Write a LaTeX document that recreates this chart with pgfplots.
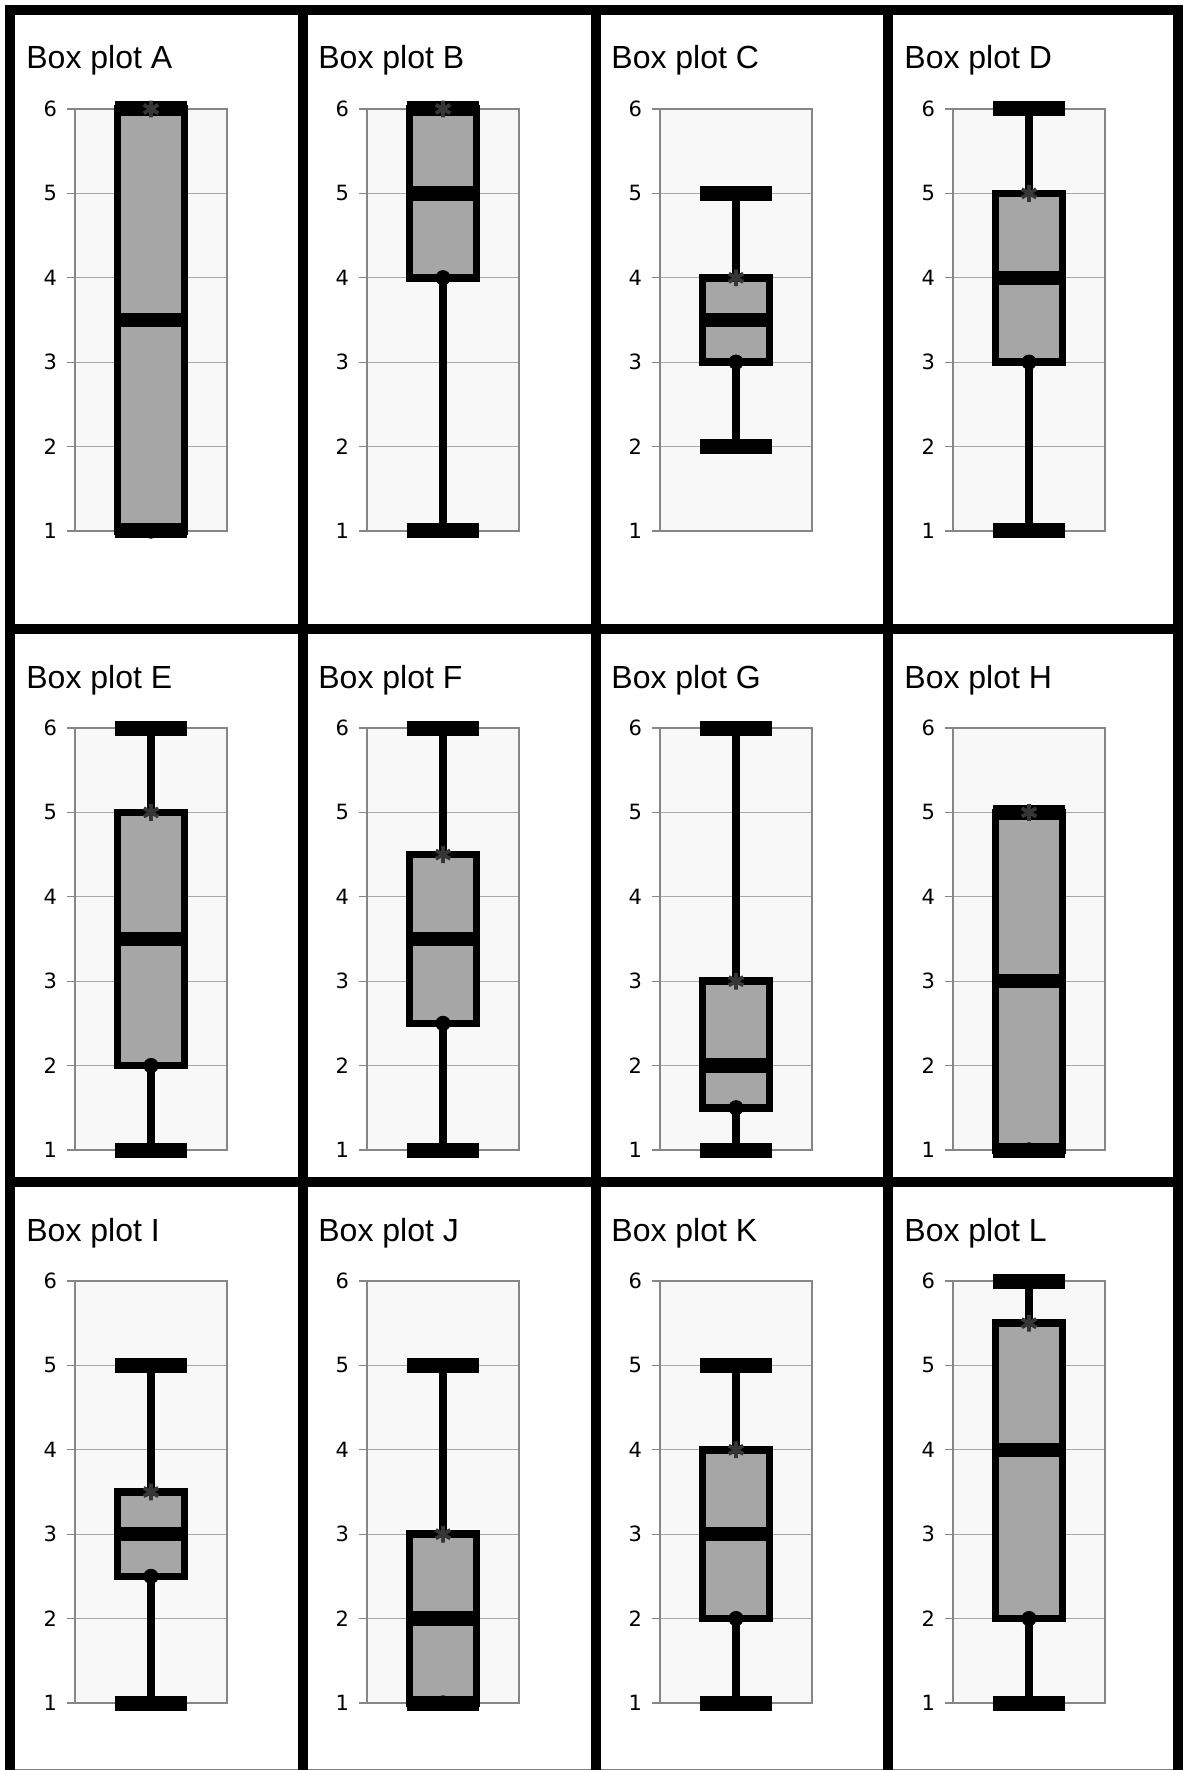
\documentclass[border=0pt]{standalone}
\usepackage{pgfplots}
\pgfplotsset{compat=1.18}
\usepackage{fontspec}
\setmainfont{Liberation Sans}
\newfontfamily\tickfont{DejaVu Sans}
\definecolor{boxgray}{HTML}{A6A6A6}
\definecolor{bggray}{HTML}{F8F8F8}
\definecolor{axgray}{HTML}{868686}
\definecolor{gridgray}{HTML}{A8A8A8}
\definecolor{stargray}{HTML}{363636}
\pgfplotsset{
  bpstyle/.style={
    scale only axis, width=76pt, height=211pt, anchor=north west,
    xmin=-1, xmax=1, ymin=1, ymax=6,
    xtick=\empty, ytick={1,2,3,4,5,6}, ytick pos=left,
    axis background/.style={fill=bggray},
    axis line style={draw=axgray, line width=0.8pt},
    ymajorgrids, grid style={draw=gridgray, line width=0.5pt},
    tick align=outside, major tick length=4pt,
    major tick style={draw=axgray, line width=0.6pt},
    /pgf/number format/assume math mode=true,
    yticklabel style={font=\tickfont\fontsize{10.5pt}{12pt}\selectfont, text=black, xshift=-1.5pt},
    clip=false,
  },
  whisk/.style={black, line width=4pt, mark=none},
  boxst/.style={draw=black, fill=boxgray, line width=3.75pt, line join=miter, mark=none},
  medst/.style={black, line width=7.25pt, mark=none, line cap=butt},
  capst/.style={black, line width=7.5pt, mark=none, line cap=butt},
  q1st/.style={only marks, mark=*, mark size=3.6pt, black, mark options={fill=black, draw=black}},
  q3st/.style={only marks, mark=asterisk, mark size=4.2pt, stargray, mark options={line width=1.9pt}},
}
% #1 plot left px, #2 plot top px, #3 letter, #4 min, #5 Q1, #6 median, #7 Q3, #8 max
\newcommand{\bp}[8]{%
  \begin{axis}[bpstyle, at={(#1*0.5pt,-#2*0.5pt)}]
    \addplot[whisk] coordinates {(0,#4) (0,#5)};
    \addplot[whisk] coordinates {(0,#7) (0,#8)};
    \addplot[boxst] coordinates {(-0.44,#5) (0.44,#5) (0.44,#7) (-0.44,#7)} -- cycle;
    \addplot[medst] coordinates {(-0.487,#6) (0.487,#6)};
    \addplot[capst] coordinates {(-0.474,#4) (0.474,#4)};
    \addplot[capst] coordinates {(-0.474,#8) (0.474,#8)};
    \addplot[q1st] coordinates {(0,#5)};
    \addplot[q3st] coordinates {(0,#7)};
  \end{axis}
  \node[anchor=base west, inner sep=0pt, font=\fontsize{16pt}{19pt}\selectfont]
    at (#1*0.5pt-49*0.5pt, -#2*0.5pt+40*0.5pt) {Box plot #3};
}
\begin{document}
\begin{tikzpicture}
  \fill[white] (0,0) rectangle (591.5pt,-885pt);
  % data: letter, min, Q1, median, Q3, max
  \bp{75}{109}{A}{1}{1}{3.5}{6}{6}
  \bp{367}{109}{B}{1}{4}{5}{6}{6}
  \bp{660}{109}{C}{2}{3}{3.5}{4}{5}
  \bp{953}{109}{D}{1}{3}{4}{5}{6}
  \bp{75}{728}{E}{1}{2}{3.5}{5}{6}
  \bp{367}{728}{F}{1}{2.5}{3.5}{4.5}{6}
  \bp{660}{728}{G}{1}{1.5}{2}{3}{6}
  \bp{953}{728}{H}{1}{1}{3}{5}{5}
  \bp{75}{1281}{I}{1}{2.5}{3}{3.5}{5}
  \bp{367}{1281}{J}{1}{1}{2}{3}{5}
  \bp{660}{1281}{K}{1}{2}{3}{4}{5}
  \bp{953}{1281}{L}{1}{2}{4}{5.5}{6}
  % cell frame
  \draw[gray, line width=0.5pt] (2.5pt,-884.6pt) -- (590pt,-884.6pt);
  \draw[black, line width=5pt] (5pt,-885pt) -- (5pt,-5pt) -- (589pt,-5pt) -- (589pt,-885pt);
  \draw[black, line width=5pt] (151.25pt,-5pt) -- (151.25pt,-885pt);
  \draw[black, line width=5pt] (297.75pt,-5pt) -- (297.75pt,-885pt);
  \draw[black, line width=5pt] (444pt,-5pt) -- (444pt,-885pt);
  \draw[black, line width=5pt] (5pt,-314.5pt) -- (589pt,-314.5pt);
  \draw[black, line width=5pt] (5pt,-591pt) -- (589pt,-591pt);
  \pgfresetboundingbox
  \useasboundingbox (0,0) rectangle (591.5pt,-885pt);
\end{tikzpicture}
\end{document}
